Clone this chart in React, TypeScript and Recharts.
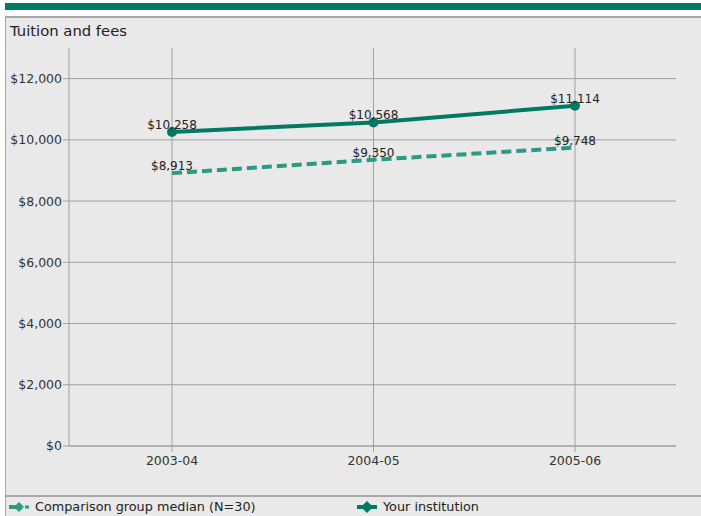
import { LineChart, Line, XAxis, YAxis, CartesianGrid, LabelList } from 'recharts';

// ── Data ──────────────────────────────────────────────────────────────────────

const YEARS = ['2003-04', '2004-05', '2005-06'];
const INSTITUTION = [10258, 10568, 11114];
const COMPARISON = [8913, 9350, 9748];
const Y_TICKS = [0, 2000, 4000, 6000, 8000, 10000, 12000];

const SERIES = [
  { key: 'comparison', label: 'Comparison group median (N=30)', color: '#2a9a80', dashed: true },
  { key: 'institution', label: 'Your institution', color: '#007a63', dashed: false },
];

const data = YEARS.map((year, i) => ({
  year,
  institution: INSTITUTION[i],
  comparison: COMPARISON[i],
}));

// ── Helpers ───────────────────────────────────────────────────────────────────

const FONT = '"DejaVu Sans", Verdana, sans-serif';
const money = (v: number) => `$${v.toLocaleString('en-US')}`;

function LegendIcon({ color, dashed }: { color: string; dashed: boolean }) {
  return (
    <svg width={22} height={12} style={{ display: 'block' }}>
      {dashed ? (
        <>
          <line x1={1} y1={6} x2={8} y2={6} stroke={color} strokeWidth={4} />
          <polygon points="11,1 16,6 11,11 6,6" fill={color} />
          <line x1={17} y1={6} x2={21} y2={6} stroke={color} strokeWidth={3} />
        </>
      ) : (
        <>
          <line x1={1} y1={6} x2={21} y2={6} stroke={color} strokeWidth={4} />
          <polygon points="11,0 17,6 11,12 5,6" fill={color} />
        </>
      )}
    </svg>
  );
}

// ── Main ──────────────────────────────────────────────────────────────────────

export default function App() {
  return (
    <div style={{ position: 'fixed', left: 0, top: 0, width: 701, height: 516, background: '#fff', fontFamily: FONT, overflow: 'hidden' }}>
      {/* top band */}
      <div style={{ position: 'absolute', left: 5, top: 3, width: 696, height: 7, background: '#007a63' }} />
      {/* panel */}
      <div style={{ position: 'absolute', left: 5, top: 16, width: 696, height: 500, background: '#e9e9e9', borderTop: '2px solid #a8a8a8', borderLeft: '1px solid #a8a8a8', boxSizing: 'border-box' }} />
      <div style={{ position: 'absolute', left: 10, top: 22, fontSize: 14.8, color: '#222' }}>Tuition and fees</div>

      <div style={{ position: 'absolute', left: 0, top: 0 }}>
        <LineChart width={701} height={496} data={data} margin={{ top: 48, right: 25, left: 9, bottom: 20 }}>
          <CartesianGrid stroke="#a0a0a0" strokeWidth={1} horizontalValues={Y_TICKS} verticalValues={YEARS} />
          <XAxis
            dataKey="year"
            padding={{ left: 103, right: 101 }}
            tick={{ fontSize: 12.5, fill: '#333', fontFamily: FONT }}
            tickLine={{ stroke: '#a0a0a0' }}
            tickSize={6}
            tickMargin={4}
            axisLine={{ stroke: '#a0a0a0' }}
            height={30}
          />
          <YAxis
            domain={[0, 13000]}
            ticks={Y_TICKS}
            tickFormatter={money}
            tick={{ fontSize: 12.5, fill: '#333', fontFamily: FONT }}
            tickLine={{ stroke: '#a0a0a0' }}
            tickSize={6}
            tickMargin={1}
            axisLine={{ stroke: '#a0a0a0' }}
            width={60}
          />
          {SERIES.map((s) => (
            <Line
              key={s.key}
              dataKey={s.key}
              stroke={s.color}
              strokeWidth={4}
              strokeDasharray={s.dashed ? '10 5' : undefined}
              dot={s.dashed ? false : { r: 5, fill: s.color, stroke: s.color, strokeWidth: 0 }}
              activeDot={false}
              isAnimationActive={false}
            >
              <LabelList
                dataKey={s.key}
                position="top"
                offset={3}
                formatter={(v: number) => money(v)}
                style={{ fontSize: 12, fill: '#222', fontFamily: FONT }}
              />
            </Line>
          ))}
        </LineChart>
      </div>

      {/* legend */}
      <div style={{ position: 'absolute', left: 5, top: 495, width: 696, borderTop: '2px solid #a8a8a8' }} />
      {SERIES.map((s, i) => (
        <div key={s.key} style={{ position: 'absolute', left: i === 0 ? 8 : 356, top: 499, display: 'flex', alignItems: 'center', gap: 5, fontSize: 12.8, color: '#222', whiteSpace: 'nowrap' }}>
          <LegendIcon color={s.color} dashed={s.dashed} />
          <span>{s.label}</span>
        </div>
      ))}
    </div>
  );
}
